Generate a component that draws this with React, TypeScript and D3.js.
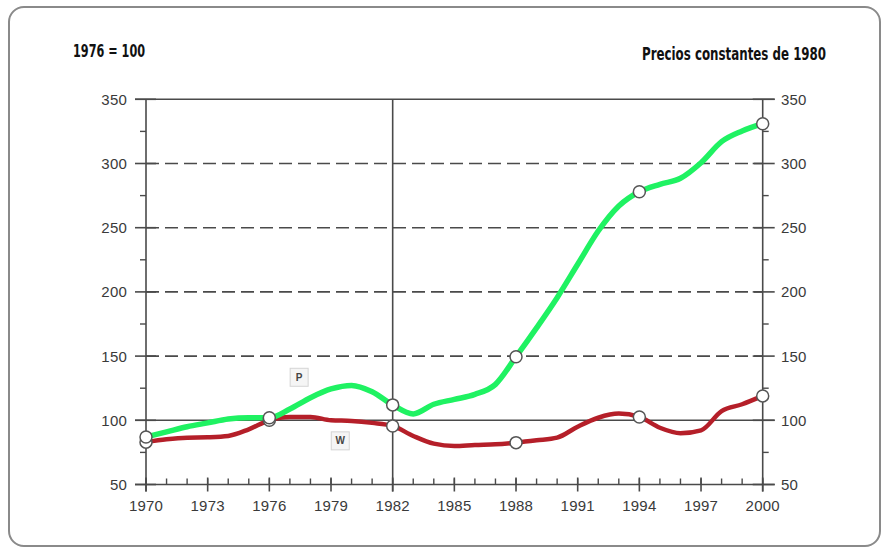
import React, { useEffect, useRef, useState } from "react";
import * as d3 from "d3";

const years = d3.range(1970, 2001);
const pValues = [87, 91, 95, 98, 101, 102, 102, 108.8, 117.6, 124.4, 127.2, 122.3, 112, 105, 112.5, 116.3, 120.2, 128, 149.5, 172, 195.5, 221.5, 247.4, 266.9, 278, 283.8, 288.5, 300.6, 317, 325.3, 331];
const wValues = [83, 85.2, 86.5, 86.8, 87.8, 93, 100, 102.6, 102.6, 100, 99.5, 98, 95.6, 87.8, 81.8, 80, 80.8, 81.3, 82.6, 84.4, 86.5, 95, 102, 105.2, 102.6, 94.2, 89.9, 92.2, 107.2, 112.5, 119];
const markerYears = [1970, 1976, 1982, 1988, 1994, 2000];
const xTickYears = [1970, 1973, 1976, 1979, 1982, 1985, 1988, 1991, 1994, 1997, 2000];
const yTicks = [50, 100, 150, 200, 250, 300, 350];
const yMinorTicks = [75, 125, 175, 225, 275, 325];
const dashedTicks = [150, 200, 250, 300];
const solidTicks = [50, 100, 350];
const titleLeft = "1976 = 100";
const titleRight = "Precios constantes de 1980";
const seriesLabels = [
  { name: "P", year: 1977.45, value: 133.5 },
  { name: "W", year: 1979.45, value: 84 },
];

function FitText({ text, x, y, width, fontFamily, fontSize, sy }: any) {
  const ref = useRef<SVGTextElement>(null);
  const [sx, setSx] = useState(1);
  useEffect(() => {
    if (ref.current) {
      const w = ref.current.getComputedTextLength();
      if (w > 0) setSx(width / w);
    }
  }, [text, width]);
  return (
    <text
      ref={ref}
      transform={`translate(${x},${y}) scale(${sx},${sy})`}
      fontFamily={fontFamily}
      fontWeight="bold"
      fontSize={fontSize}
      fill="#111"
    >
      {text}
    </text>
  );
}

export default function App() {
  const W = 887, H = 551;
  const x = d3.scaleLinear().domain([1970, 2000]).range([146, 762.7]);
  const y = d3.scaleLinear().domain([50, 350]).range([484.5, 99.3]);
  const line = d3
    .line<[number, number]>()
    .x((d) => x(d[0]))
    .y((d) => y(d[1]))
    .curve(d3.curveMonotoneX);
  const pData: [number, number][] = years.map((yr, i) => [yr, pValues[i]]);
  const wData: [number, number][] = years.map((yr, i) => [yr, wValues[i]]);
  const axisColor = "#4a4a4a";
  const x0 = x(1970), x1 = x(2000);
  const fontAxis = "'Liberation Sans', Arial, sans-serif";
  const fontTitle = "'DejaVu Sans Condensed', 'DejaVu Sans', sans-serif";

  return (
    <svg width={W} height={H} style={{ position: "absolute", left: 0, top: 0, background: "#fff" }}>
      <rect x={9} y={7} width={871} height={539} rx={15} fill="#fff" stroke="#8a8a8a" strokeWidth={2} />
      <FitText text={titleLeft} x={73} y={57} width={72} fontFamily={fontTitle} fontSize={14} sy={1.3} />
      <FitText text={titleRight} x={642} y={60} width={184} fontFamily={fontTitle} fontSize={14} sy={1.3} />

      {/* dashed grid */}
      {dashedTicks.map((t) => (
        <line key={"g" + t} x1={x0} x2={x1} y1={y(t)} y2={y(t)} stroke={axisColor} strokeWidth={1.6} strokeDasharray="13,6" />
      ))}
      {/* solid horizontal lines */}
      {solidTicks.map((t) => (
        <line key={"s" + t} x1={x0 - 11} x2={x1 + 12} y1={y(t)} y2={y(t)} stroke={axisColor} strokeWidth={1.6} />
      ))}
      {/* y axis major ticks */}
      {yTicks.map((t) => (
        <g key={"yt" + t}>
          <line x1={x0 - 11} x2={x0 + 10} y1={y(t)} y2={y(t)} stroke={axisColor} strokeWidth={1.6} />
          <line x1={x1 - 10} x2={x1 + 12} y1={y(t)} y2={y(t)} stroke={axisColor} strokeWidth={1.6} />
          <text x={127} y={y(t)} dy="0.36em" textAnchor="end" fontFamily={fontAxis} fontSize={15} fill="#3a3a3a" letterSpacing={0.2}>
            {t}
          </text>
          <text x={781} y={y(t)} dy="0.36em" textAnchor="start" fontFamily={fontAxis} fontSize={15} fill="#3a3a3a" letterSpacing={0.2}>
            {t}
          </text>
        </g>
      ))}
      {yMinorTicks.map((t) => (
        <g key={"ym" + t}>
          <line x1={x0 - 6} x2={x0} y1={y(t)} y2={y(t)} stroke={axisColor} strokeWidth={1.4} />
          <line x1={x1} x2={x1 + 6} y1={y(t)} y2={y(t)} stroke={axisColor} strokeWidth={1.4} />
        </g>
      ))}
      {/* vertical axes */}
      <line x1={x0} x2={x0} y1={y(350)} y2={y(50) + 7} stroke={axisColor} strokeWidth={1.6} />
      <line x1={x1} x2={x1} y1={y(350)} y2={y(50) + 7} stroke={axisColor} strokeWidth={1.6} />
      <line x1={x(1982)} x2={x(1982)} y1={y(350)} y2={y(50) + 7} stroke={axisColor} strokeWidth={1.6} />
      {/* x ticks */}
      {years.map((yr) => (
        <line key={"xm" + yr} x1={x(yr)} x2={x(yr)} y1={y(50) - 6} y2={y(50)} stroke={axisColor} strokeWidth={1.4} />
      ))}
      {xTickYears.map((yr) => (
        <g key={"xt" + yr}>
          <line x1={x(yr)} x2={x(yr)} y1={y(50) - 7} y2={y(50) + 7} stroke={axisColor} strokeWidth={1.6} />
          <text x={x(yr)} y={511} textAnchor="middle" fontFamily={fontAxis} fontSize={15} fill="#3a3a3a" letterSpacing={0.2}>
            {yr}
          </text>
        </g>
      ))}

      {/* series */}
      <path d={line(wData) || ""} fill="none" stroke="#b51f29" strokeWidth={4.5} strokeLinejoin="round" />
      <path d={line(pData) || ""} fill="none" stroke="#1ff262" strokeWidth={5.5} strokeLinejoin="round" />
      {markerYears.map((yr) => {
        const i = years.indexOf(yr);
        return (
          <g key={"m" + yr}>
            <circle cx={x(yr)} cy={y(wValues[i])} r={6} fill="#fff" stroke="#555" strokeWidth={1.5} />
            <circle cx={x(yr)} cy={y(pValues[i])} r={6} fill="#fff" stroke="#555" strokeWidth={1.5} />
          </g>
        );
      })}

      {/* series labels */}
      {seriesLabels.map((l) => (
        <g key={l.name}>
          <rect x={x(l.year) - 9} y={y(l.value) - 9} width={18} height={18} fill="#f5f5f5" stroke="#d4d4d4" strokeWidth={1} />
          <text x={x(l.year)} y={y(l.value)} dy="0.36em" textAnchor="middle" fontFamily={fontAxis} fontWeight="bold" fontSize={10} fill="#444">
            {l.name}
          </text>
        </g>
      ))}
    </svg>
  );
}
